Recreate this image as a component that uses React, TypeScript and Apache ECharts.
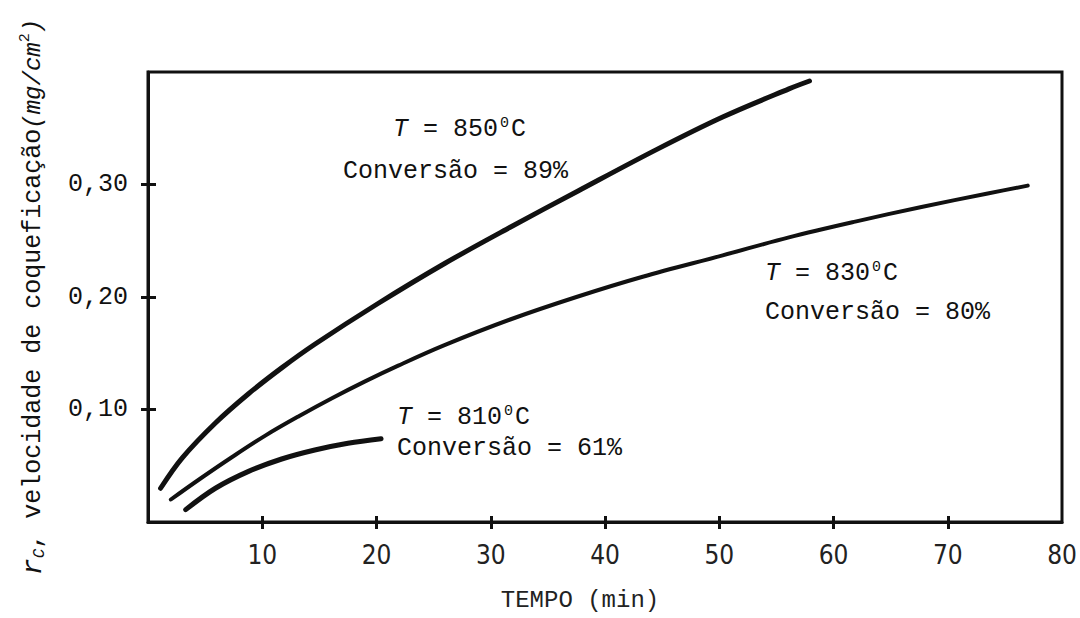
import { useEffect, useRef } from "react";
import * as echarts from "echarts";

// T = 850 °C, Conversão = 89 %
const tempo850 = [1.1, 3.0, 5.9, 8.8, 11.7, 14.6, 20.1, 26.0, 31.7, 37.6, 44.5, 50.3, 56.1, 57.9];
const rate850 = [0.030, 0.057, 0.088, 0.114, 0.137, 0.158, 0.194, 0.230, 0.262, 0.294, 0.331, 0.360, 0.385, 0.392];

// T = 830 °C, Conversão = 80 %
const tempo830 = [2.0, 4.5, 7.4, 10.3, 13.2, 16.1, 19.0, 21.9, 25.9, 31.7, 37.5, 43.3, 50.3, 56.1, 61.9, 67.7, 73.5, 77.0];
const rate830 = [0.020, 0.038, 0.058, 0.077, 0.094, 0.110, 0.125, 0.139, 0.157, 0.180, 0.200, 0.218, 0.237, 0.253, 0.267, 0.280, 0.292, 0.299];

// T = 810 °C, Conversão = 61 %
const tempo810 = [3.3, 5.9, 8.8, 11.7, 14.6, 17.5, 20.4];
const rate810 = [0.011, 0.030, 0.045, 0.056, 0.064, 0.070, 0.074];

const xTickValues = [10, 20, 30, 40, 50, 60, 70];
const xLabelValues = [10, 20, 30, 40, 50, 60, 70, 80];
const yTickValues = [0.1, 0.2, 0.3];

const seriesLabels = [
  { temp: "850", conv: "89%", x: 393, y: 129, x2: 343, y2: 171 },
  { temp: "830", conv: "80%", x: 765, y: 273, x2: 765, y2: 312 },
  { temp: "810", conv: "61%", x: 397, y: 417, x2: 397, y2: 448 },
];

const INK = "#111";
const MONO = "'Liberation Mono', 'DejaVu Sans Mono', monospace";
const NARROW = "'Liberation Sans Narrow', 'DejaVu Sans Condensed', sans-serif";

function pairs(t: number[], v: number[]) {
  return t.map((x, i) => [x, v[i]]);
}

export default function App() {
  const ref = useRef<HTMLDivElement>(null);
  useEffect(() => {
    if (!ref.current) return;
    const chart = echarts.init(ref.current, null, { renderer: "svg" });
    const lineSeries = (name: string, t: number[], v: number[], w: number) => ({
      name,
      type: "line",
      data: pairs(t, v),
      smooth: 0.35,
      showSymbol: false,
      symbol: "none",
      lineStyle: { color: INK, width: w, cap: "round" },
      xAxisIndex: 0,
      yAxisIndex: 0,
    });
    const graphics: any[] = [];
    seriesLabels.forEach((l) => {
      graphics.push({
        type: "text",
        x: l.x,
        y: l.y,
        style: {
          text: "{i|T} = " + l.temp + "{s|0}C",
          font: `25px ${MONO}`,
          fill: INK,
          verticalAlign: "middle",
          rich: {
            i: { fontFamily: MONO, fontSize: 25, fontStyle: "italic", fill: INK },
            s: { fontFamily: MONO, fontSize: 15, verticalAlign: "top", fill: INK, padding: [0, 2, 12, 2] },
          },
        },
      });
      graphics.push({
        type: "text",
        x: l.x2,
        y: l.y2,
        style: {
          text: "Conversão = " + l.conv,
          font: `25px ${MONO}`,
          fill: INK,
          verticalAlign: "middle",
        },
      });
    });

    chart.setOption({
      animation: false,
      backgroundColor: "#ffffff",
      grid: {
        left: 148,
        right: 18,
        top: 72,
        bottom: 96,
        show: true,
        borderColor: INK,
        borderWidth: 3,
        backgroundColor: "transparent",
      },
      xAxis: [
        {
          type: "value",
          min: 0,
          max: 80,
          interval: 10,
          position: "bottom",
          splitLine: { show: false },
          axisLine: { onZero: false, lineStyle: { color: INK, width: 3 } },
          axisTick: { customValues: xTickValues, length: 7, lineStyle: { color: INK, width: 3 } },
          axisLabel: {
            customValues: xLabelValues,
            margin: 20,
            fontFamily: NARROW,
            fontSize: 26,
            color: "#222",
          },
        },
        {
          type: "value",
          min: 0,
          max: 80,
          interval: 10,
          position: "bottom",
          splitLine: { show: false },
          axisLine: { show: false, onZero: false },
          axisTick: { inside: true, customValues: xTickValues, length: 6, lineStyle: { color: INK, width: 3 } },
          axisLabel: { show: false },
        },
      ],
      yAxis: [
        {
          type: "value",
          min: 0,
          max: 0.4,
          interval: 0.1,
          position: "left",
          splitLine: { show: false },
          axisLine: { onZero: false, lineStyle: { color: INK, width: 3 } },
          axisTick: { customValues: yTickValues, length: 7, lineStyle: { color: INK, width: 3 } },
          axisLabel: {
            customValues: yTickValues,
            margin: 20,
            fontFamily: MONO,
            fontSize: 25,
            color: INK,
            formatter: (v: number) => v.toFixed(2).replace(".", ","),
          },
          name: "{r|r}{sub|C}, velocidade de coqueficação{it|(mg/cm}{sup|2}{it|)}",
          nameLocation: "middle",
          nameRotate: 90,
          nameGap: 100,
          nameTextStyle: {
            fontFamily: MONO,
            fontSize: 25,
            color: INK,
            lineHeight: 30,
            rich: {
              r: { fontFamily: MONO, fontSize: 28, fontStyle: "italic", color: INK },
              sub: { fontFamily: MONO, fontSize: 16, fontStyle: "italic", color: INK, verticalAlign: "bottom", padding: [10, 0, 0, 0] },
              it: { fontFamily: MONO, fontSize: 24, fontStyle: "italic", color: INK },
              sup: { fontFamily: MONO, fontSize: 15, color: INK, verticalAlign: "top", padding: [0, 0, 12, 0] },
            },
          },
        },
        {
          type: "value",
          min: 0,
          max: 0.4,
          interval: 0.1,
          position: "left",
          splitLine: { show: false },
          axisLine: { show: false, onZero: false },
          axisTick: { inside: true, customValues: yTickValues, length: 8, lineStyle: { color: INK, width: 3 } },
          axisLabel: { show: false },
        },
      ],
      series: [
        lineSeries("T = 850 °C", tempo850, rate850, 5),
        lineSeries("T = 830 °C", tempo830, rate830, 4),
        lineSeries("T = 810 °C", tempo810, rate810, 5),
      ],
      graphic: [
        ...graphics,
        {
          type: "text",
          x: 580,
          y: 600,
          style: {
            text: "TEMPO (min)",
            font: `24px ${MONO}`,
            fill: "#222",
            align: "center",
            verticalAlign: "middle",
          },
        },
      ],
    });
    return () => chart.dispose();
  }, []);
  return <div ref={ref} style={{ width: 1080, height: 618, position: "absolute", left: 0, top: 0 }} />;
}
